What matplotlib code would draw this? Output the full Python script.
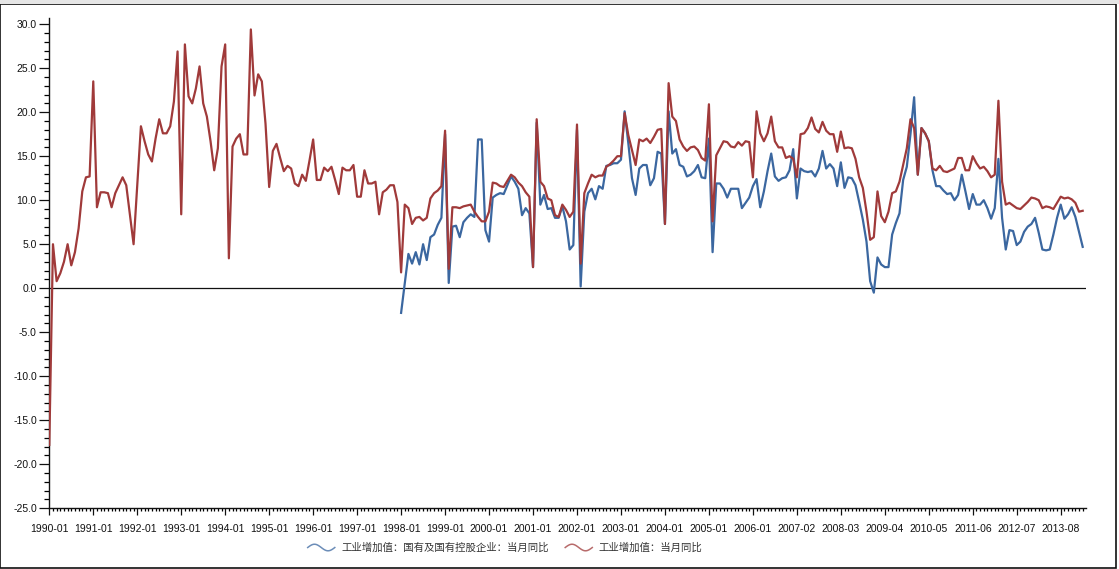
"""Industrial value added, monthly YoY growth (1990-2013)."""

import matplotlib
matplotlib.use("Agg")
import matplotlib.pyplot as plt
import numpy as np
from matplotlib.legend_handler import HandlerBase
from matplotlib.lines import Line2D
from matplotlib.patches import Rectangle
from matplotlib.ticker import FixedLocator, MultipleLocator, FormatStrFormatter

plt.rcParams["font.family"] = ["Liberation Sans", "Noto Sans CJK SC", "DejaVu Sans"]

TOTAL_LABEL = "工业增加值：当月同比"
STATE_LABEL = "工业增加值：国有及国有控股企业：当月同比"

TICK_LABELS = [
    "1990-01", "1991-01", "1992-01", "1993-01", "1994-01", "1995-01",
    "1996-01", "1997-01", "1998-01", "1999-01", "2000-01", "2001-01",
    "2002-01", "2003-01", "2004-01", "2005-01", "2006-01", "2007-02",
    "2008-03", "2009-04", "2010-05", "2011-06", "2012-07", "2013-08",
]

# 工业增加值：当月同比 (one value per observation, 1990-01 onwards)
total_yoy = [
    -17.8, 5.0, 0.8, 1.7, 3.0, 5.0, 2.6, 4.1, 6.8, 11.0, 12.6, 12.7,
    23.5, 9.2, 10.9, 10.9, 10.8, 9.2, 10.8, 11.7, 12.6, 11.7, 8.3, 5.0,
    11.7, 18.4, 16.7, 15.2, 14.4, 17.0, 19.2, 17.6, 17.6, 18.4, 21.2, 26.9,
    8.4, 27.7, 21.8, 21.0, 22.7, 25.2, 21.0, 19.5, 16.7, 13.4, 15.9, 25.2,
    27.7, 3.4, 16.1, 17.0, 17.5, 15.2, 15.2, 29.4, 21.9, 24.3, 23.5, 18.7,
    11.5, 15.6, 16.4, 14.8, 13.3, 13.9, 13.6, 11.9, 11.6, 12.9, 12.2, 14.5,
    16.9, 12.3, 12.3, 13.7, 13.3, 13.8, 12.3, 10.7, 13.7, 13.4, 13.4, 14.0,
    10.4, 10.4, 13.4, 11.9, 11.9, 12.1, 8.4, 10.9, 11.2, 11.7, 11.7, 9.8,
    1.8, 9.5, 9.1, 7.3, 8.0, 8.1, 7.7, 8.0, 10.2, 10.8, 11.1, 11.6,
    17.9, 2.2, 9.2, 9.2, 9.1, 9.3, 9.4, 9.5, 8.7, 8.1, 7.6, 7.6,
    8.7, 12.0, 11.9, 11.6, 11.5, 12.2, 12.9, 12.6, 12.0, 11.6, 10.9, 10.4,
    2.4, 19.2, 12.1, 11.6, 10.2, 10.0, 8.3, 8.1, 9.5, 8.9, 8.1, 8.7,
    18.6, 2.8, 10.8, 11.9, 12.9, 12.6, 12.8, 12.8, 13.8, 14.1, 14.5, 15.0,
    15.0, 19.9, 17.4, 15.7, 14.0, 16.9, 16.7, 17.0, 16.5, 17.2, 18.0, 18.1,
    7.3, 23.3, 19.5, 19.0, 16.9, 16.1, 15.6, 16.0, 16.1, 15.7, 14.8, 14.5,
    20.9, 7.6, 15.1, 15.9, 16.7, 16.6, 16.1, 16.0, 16.6, 16.2, 16.7, 16.6,
    12.6, 20.1, 17.6, 16.7, 17.6, 19.5, 16.7, 16.0, 16.0, 14.8, 15.0, 14.7,
    12.6, 17.5, 17.6, 18.2, 19.4, 18.1, 17.7, 18.9, 17.9, 17.5, 17.5, 15.5,
    17.8, 15.9, 16.0, 15.9, 14.7, 12.6, 11.4, 8.7, 5.5, 5.8, 11.0, 8.2,
    7.5, 8.7, 10.8, 11.0, 12.1, 14.0, 15.9, 19.2, 18.2, 12.9, 18.2, 17.6,
    16.7, 13.6, 13.4, 13.9, 13.3, 13.2, 13.4, 13.6, 14.8, 14.8, 13.4, 13.4,
    15.0, 14.2, 13.6, 13.8, 13.3, 12.6, 12.9, 21.3, 12.1, 9.5, 9.7, 9.4,
    9.1, 9.0, 9.4, 9.8, 10.3, 10.2, 10.0, 9.1, 9.3, 9.2, 9.0, 9.7,
    10.4, 10.2, 10.3, 10.1, 9.7, 8.7, 8.8,
]

# 国有及国有控股企业：当月同比 (starts at 1998-01, the 97th observation)
state_start = 96
state_yoy = [
    -2.8, 0.6, 3.9, 2.8, 4.1, 2.7, 5.0, 3.2, 5.8, 6.1, 7.2, 8.0,
    17.5, 0.6, 7.0, 7.1, 5.8, 7.5, 8.0, 8.4, 8.1, 16.9, 16.9, 6.6,
    5.3, 10.3, 10.6, 10.8, 10.7, 11.7, 12.7, 12.1, 11.3, 8.3, 9.1, 8.5,
    2.4, 18.8, 9.5, 10.6, 9.0, 9.1, 8.0, 8.0, 9.3, 7.6, 4.4, 4.9,
    18.0, 0.2, 8.7, 10.8, 11.3, 10.1, 11.6, 11.3, 13.9, 14.0, 14.2, 14.2,
    14.6, 20.1, 16.5, 12.5, 10.6, 13.6, 14.0, 14.0, 11.7, 12.5, 15.5, 15.3,
    7.3, 20.1, 15.3, 15.8, 14.0, 13.8, 12.7, 12.9, 13.3, 14.0, 12.6, 12.5,
    17.0, 4.1, 11.9, 11.9, 11.3, 10.3, 11.3, 11.3, 11.3, 9.1, 9.7, 10.3,
    11.6, 12.4, 9.2, 11.0, 13.3, 15.3, 12.7, 12.2, 12.5, 12.6, 13.4, 15.8,
    10.2, 13.6, 13.3, 13.2, 13.3, 12.7, 13.6, 15.6, 13.6, 14.1, 13.6, 11.6,
    14.3, 11.4, 12.6, 12.5, 11.7, 9.8, 7.8, 5.3, 0.8, -0.5, 3.5, 2.7,
    2.4, 2.4, 6.1, 7.4, 8.5, 12.3, 13.8, 17.5, 21.7, 12.9, 18.2, 17.6,
    16.7, 13.4, 11.6, 11.6, 11.1, 10.7, 10.8, 10.0, 10.6, 12.9, 11.0, 9.0,
    10.7, 9.5, 9.5, 10.0, 9.1, 7.9, 9.1, 14.7, 8.0, 4.4, 6.6, 6.5,
    4.9, 5.3, 6.4, 7.0, 7.3, 8.0, 6.3, 4.4, 4.3, 4.4, 6.1, 8.0,
    9.5, 7.9, 8.4, 9.2, 8.1, 6.4, 4.7,
]

RED = "#a03a3a"
BLUE = "#3b67a0"


class HandlerWave(HandlerBase):
    """Legend key drawn as one sine period, like the original terminal chart."""

    def create_artists(self, legend, orig_handle, xdescent, ydescent,
                       width, height, fontsize, trans):
        t = np.linspace(0, 1, 40)
        xs = -xdescent + t * width
        ys = -ydescent + height / 2 + np.sin(t * 2 * np.pi) * height * 0.45
        line = Line2D(xs, ys, color=orig_handle.get_color(), lw=1.1, alpha=0.75)
        line.set_transform(trans)
        return [line]


def main() -> None:
    fig = plt.figure(figsize=(11.19, 5.69), dpi=100)
    ax = fig.add_axes([49.3 / 1119, 60.7 / 569, 1036.7 / 1119, 490.3 / 569])

    x_total = np.arange(len(total_yoy))
    x_state = np.arange(state_start, state_start + len(state_yoy))

    ax.axhline(0, color="#111111", lw=0.9, zorder=1)
    h_state, = ax.plot(x_state, state_yoy, color=BLUE, lw=1.6, zorder=2)
    h_total, = ax.plot(x_total, total_yoy, color=RED, lw=1.6, zorder=3)

    ax.set_xlim(0, 282.9)
    ax.set_ylim(-25, 30.7)

    ax.yaxis.set_major_locator(MultipleLocator(5))
    ax.yaxis.set_minor_locator(MultipleLocator(1))
    ax.yaxis.set_major_formatter(FormatStrFormatter("%.1f"))
    ax.xaxis.set_major_locator(FixedLocator(np.arange(len(TICK_LABELS)) * 12))
    ax.xaxis.set_minor_locator(MultipleLocator(1))
    ax.set_xticklabels(TICK_LABELS)

    for side in ("top", "right"):
        ax.spines[side].set_visible(False)
    for side in ("left", "bottom"):
        ax.spines[side].set_color("#111111")
        ax.spines[side].set_linewidth(1.0)

    ax.tick_params(axis="both", which="major", labelsize=7.5, colors="#111111",
                   width=0.9)
    ax.tick_params(axis="y", which="major", length=7, pad=2)
    ax.tick_params(axis="y", which="minor", length=3.5, width=0.9)
    ax.tick_params(axis="x", which="major", length=5, pad=6)
    ax.tick_params(axis="x", which="minor", length=2.5, width=0.9)

    leg = fig.legend(
        [h_state, h_total], [STATE_LABEL, TOTAL_LABEL],
        handler_map={Line2D: HandlerWave()},
        loc="center", bbox_to_anchor=(505 / 1119, 1 - 548 / 569),
        ncol=2, frameon=False, fontsize=7.5, handlelength=2.6,
        handletextpad=0.6, columnspacing=1.6,
    )
    for text in leg.get_texts():
        text.set_color("#333333")

    # outer frame of the chart window
    fig.add_artist(Rectangle((0, 1 / 569), 1116 / 1119, 564 / 569, fill=False,
                             ec="#111111", lw=1.2, transform=fig.transFigure))
    fig.add_artist(Rectangle((0, 565.5 / 569), 1, 3.5 / 569, fill=True,
                             fc="#e6e6e6", ec="none", transform=fig.transFigure))

    fig.savefig("out.png", dpi=100)
    plt.close(fig)


if __name__ == "__main__":
    main()
